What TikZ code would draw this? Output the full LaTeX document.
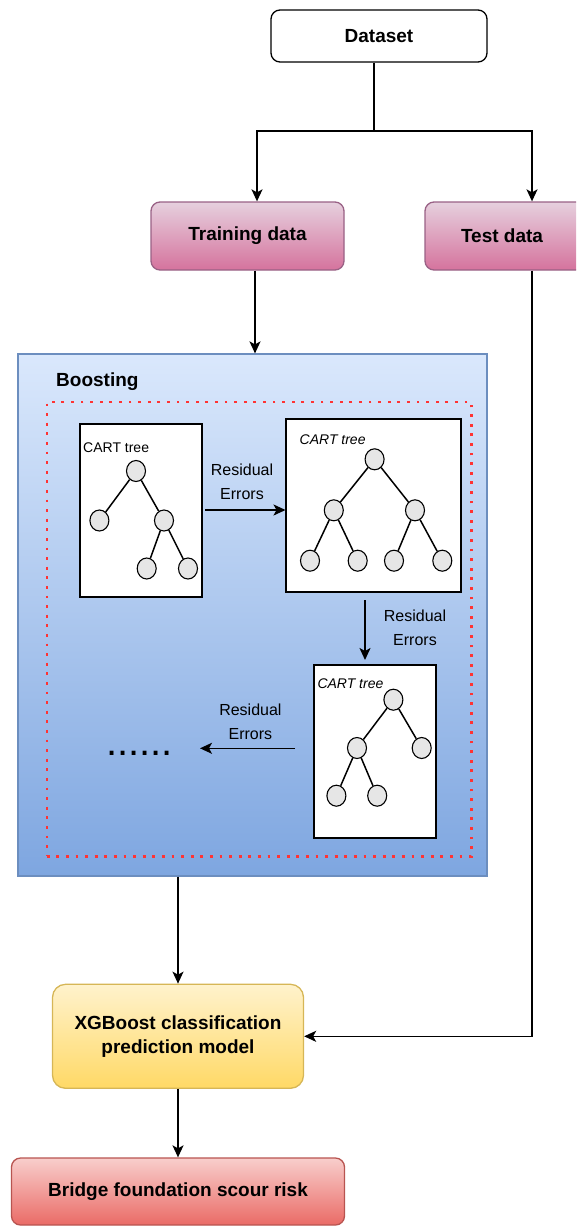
\documentclass[tikz,border=0pt]{standalone}
\usepackage{fontspec}
\setmainfont{Liberation Sans}
\usetikzlibrary{arrows.meta,shapes.geometric}

\definecolor{pinktop}{HTML}{E6D0DE}
\definecolor{pinkbot}{HTML}{D5739D}
\definecolor{pinkline}{HTML}{996185}
\definecolor{bluetop}{HTML}{DAE8FC}
\definecolor{bluebot}{HTML}{7EA6E0}
\definecolor{blueline}{HTML}{6C8EBF}
\definecolor{yeltop}{HTML}{FFF2CC}
\definecolor{yelbot}{HTML}{FFD966}
\definecolor{yelline}{HTML}{D6B656}
\definecolor{redtop}{HTML}{F8CECC}
\definecolor{redbot}{HTML}{EA6B66}
\definecolor{redline}{HTML}{B85450}
\definecolor{dotred}{HTML}{FF3333}
\definecolor{nodegrey}{HTML}{E6E6E6}

\begin{document}
\begin{tikzpicture}[x=1pt,y=-1pt,
  box/.style={rectangle, rounded corners=9pt, inner sep=0pt, align=center,
    font=\bfseries\fontsize{19}{24}\selectfont, line width=1.3pt},
  arr/.style={-{Stealth[length=12pt,width=11pt,inset=3pt]}, line width=1.6pt},
  treebox/.style={draw, fill=white, line width=1.8pt, inner sep=0pt,
    minimum height=173pt},
  tn/.style={ellipse, draw, fill=nodegrey, minimum width=19pt,
    minimum height=21pt, inner sep=0pt, line width=1.1pt},
  te/.style={line width=1.5pt},
  lbl/.style={font=\fontsize{16}{24}\selectfont, align=center, inner sep=0pt},
  cart/.style={font=\fontsize{14}{16}\selectfont, anchor=west, inner sep=0pt}]

\useasboundingbox (0,0) rectangle (576,1226);
\clip (0,0) rectangle (576,1226);

% main flow boxes
\node[box, draw=black, fill=white, minimum width=216pt, minimum height=52pt]
  (dataset) at (379,36) {Dataset};
\node[box, draw=pinkline, top color=pinktop, bottom color=pinkbot,
  minimum width=193pt, minimum height=68pt] (train) at (247.5,236) {Training data};
\node[box, draw=pinkline, top color=pinktop, bottom color=pinkbot,
  minimum width=193pt, minimum height=68pt] (test) at (521.5,236) {\hspace*{-39pt}Test data};

% boosting container
\node[draw=blueline, top color=bluetop, bottom color=bluebot, line width=1.2pt,
  minimum width=469pt, minimum height=522pt, inner sep=0pt] (boost) at (252.5,615) {};
\node[anchor=west, inner sep=0pt, font=\bfseries\fontsize{19}{24}\selectfont]
  (boostlbl) at (56,382) {Boosting};
\node[draw=dotred, line width=2.4pt, dash pattern=on 2.8pt off 6.8pt,
  minimum width=424.6pt, minimum height=454.6pt, inner sep=0pt] (frame) at (259,629) {};

% first CART tree
\node[treebox, minimum width=122pt] (t1) at (141,510.5) {};
\node[cart] (c1) at (83,448) {CART tree};
\node[tn] (a0) at (136,471) {};
\node[tn] (a1) at (99.4,520.5) {};
\node[tn] (a2) at (164,520.5) {};
\node[tn] (a3) at (146.7,568.5) {};
\node[tn] (a4) at (188,568.5) {};
\draw[te] (a0) -- (a1);
\draw[te] (a0) -- (a2);
\draw[te] (a2) -- (a3);
\draw[te] (a2) -- (a4);

% second CART tree
\node[treebox, minimum width=175pt] (t2) at (373.5,505.5) {};
\node[cart] (c2) at (299.5,440) {\itshape CART tree};
\node[tn] (b0) at (374.6,459.3) {};
\node[tn] (b1) at (333.8,510.3) {};
\node[tn] (b2) at (415,510.3) {};
\node[tn] (b3) at (310,560.7) {};
\node[tn] (b4) at (357.7,560.7) {};
\node[tn] (b5) at (394,560.7) {};
\node[tn] (b6) at (442.3,560.7) {};
\draw[te] (b0) -- (b1);
\draw[te] (b0) -- (b2);
\draw[te] (b1) -- (b3);
\draw[te] (b1) -- (b4);
\draw[te] (b2) -- (b5);
\draw[te] (b2) -- (b6);

% third CART tree
\node[treebox, minimum width=122pt] (t3) at (375,751.5) {};
\node[cart] (c3) at (317.3,683.7) {\itshape CART tree};
\node[tn] (d0) at (393.4,699.7) {};
\node[tn] (d1) at (357,748) {};
\node[tn] (d2) at (421.7,748) {};
\node[tn] (d3) at (336.4,795.7) {};
\node[tn] (d4) at (377.2,795.7) {};
\draw[te] (d0) -- (d1);
\draw[te] (d0) -- (d2);
\draw[te] (d1) -- (d3);
\draw[te] (d1) -- (d4);

% residual-error hand-offs
\coordinate (r1a) at (205,510);
\coordinate (r1b) at (285.5,510);
\draw[arr] (r1a) -- (r1b);
\node[lbl] (l1) at (242,482) {Residual\\Errors};

\coordinate (r2a) at (365,600);
\coordinate (r2b) at (365,660);
\draw[arr] (r2a) -- (r2b);
\node[lbl] (l2) at (415,628) {Residual\\Errors};

\coordinate (r3a) at (295,748.3);
\coordinate (r3b) at (200,748.3);
\draw[arr] (r3a) -- (r3b);
\node[lbl] (l3) at (250.4,722) {Residual\\Errors};

\node[anchor=base, inner sep=0pt, font=\fontsize{40}{42}\selectfont]
  (dots) at (139.5,755) {......};

% model and result
\node[box, rounded corners=13pt, draw=yelline, top color=yeltop, bottom color=yelbot,
  minimum width=251pt, minimum height=104pt] (xgb) at (178,1036.3)
  {XGBoost classification\\prediction model};
\node[box, draw=redline, top color=redtop, bottom color=redbot,
  minimum width=333pt, minimum height=67pt] (risk) at (178,1191.5)
  {Bridge foundation scour risk};

% connectors
\coordinate (split) at (374,131);
\draw[line width=1.6pt] (dataset.south -| split) -- (split);
\draw[arr] (split) -| ([xshift=9.5pt]train.north);
\draw[arr] (split) -| ([xshift=10.5pt]test.north);
\draw[arr] ([xshift=7.5pt]train.south) -- ([xshift=7.5pt]train.south |- boost.north);
\draw[arr] (boost.south -| xgb.north) -- (xgb.north);
\draw[arr] ([xshift=10.5pt]test.south) |- (xgb.east);
\draw[arr] (xgb.south) -- (risk.north);

\end{tikzpicture}
\end{document}
